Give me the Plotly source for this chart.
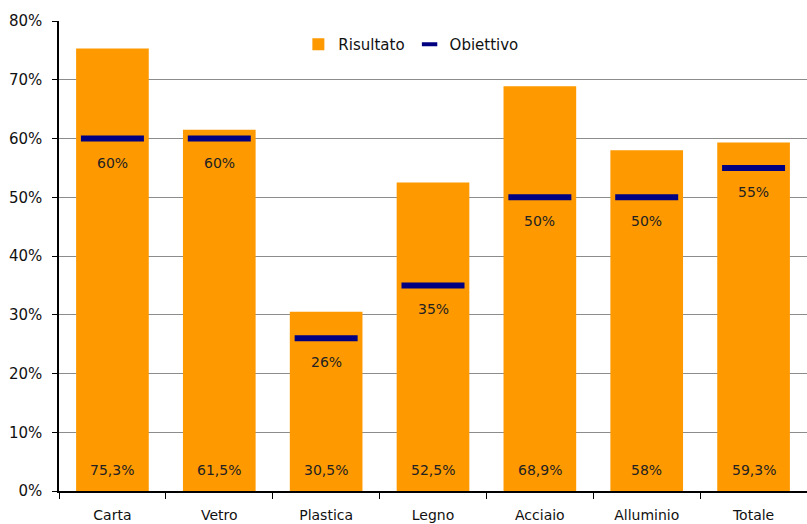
import plotly.graph_objects as go

categories = ["Carta", "Vetro", "Plastica", "Legno", "Acciaio", "Alluminio", "Totale"]
risultato = [75.3, 61.5, 30.5, 52.5, 68.9, 58.0, 59.3]
risultato_labels = ["75,3%", "61,5%", "30,5%", "52,5%", "68,9%", "58%", "59,3%"]
obiettivo = [60, 60, 26, 35, 50, 50, 55]
obiettivo_labels = ["60%", "60%", "26%", "35%", "50%", "50%", "55%"]
y_ticks = [0, 10, 20, 30, 40, 50, 60, 70, 80]

FONT = "DejaVu Sans"
ORANGE = "#FF9900"
NAVY = "#000080"

fig = go.Figure()
fig.add_trace(go.Bar(
    x=categories, y=risultato, name="Risultato",
    marker=dict(color=ORANGE, line=dict(width=0)),
    width=0.68,
))
fig.add_trace(go.Scatter(
    x=categories, y=obiettivo, name="Obiettivo", mode="markers", showlegend=False,
    marker=dict(symbol="line-ew-open", size=45, line=dict(width=6, color=NAVY), color=NAVY),
))
# legend entry with a short dash, as in the reference
fig.add_trace(go.Scatter(
    x=[None], y=[None], name="Obiettivo", mode="markers",
    marker=dict(symbol="line-ew-open", size=11, line=dict(width=4, color=NAVY), color=NAVY),
))

annotations = []
for c, lab in zip(categories, risultato_labels):
    annotations.append(dict(x=c, y=0, yref="y", xref="x", text=lab, showarrow=False,
                            yshift=21, font=dict(family=FONT, size=14, color="#222222")))
for c, v, lab in zip(categories, obiettivo, obiettivo_labels):
    annotations.append(dict(x=c, y=v, yref="y", xref="x", text=lab, showarrow=False,
                            yshift=-24, font=dict(family=FONT, size=14, color="#222222")))

fig.update_layout(
    width=807, height=524,
    margin=dict(l=59, r=0, t=21, b=33),
    plot_bgcolor="white", paper_bgcolor="white",
    font=dict(family=FONT, size=14, color="#222222"),
    showlegend=True,
    legend=dict(orientation="h", x=0.32, xanchor="left", y=0.985, yanchor="top",
                font=dict(family=FONT, size=15, color="#111111"),
                bgcolor="rgba(0,0,0,0)", itemwidth=30, tracegroupgap=0),
    annotations=annotations,
)
fig.update_xaxes(
    type="category", range=[-0.5, 6.5], tickson="boundaries", ticks="outside", ticklen=6,
    tickcolor="#000000", showline=True, linecolor="#000000", linewidth=1.5,
    showgrid=False, automargin=False, ticklabelstandoff=10,
    tickfont=dict(family=FONT, size=14, color="#111111"),
)
fig.update_yaxes(
    range=[0, 80], tickvals=y_ticks, ticktext=[f"{v}%" for v in y_ticks],
    showline=True, linecolor="#000000", linewidth=1.5,
    ticks="outside", ticklen=5, tickcolor="#000000",
    showgrid=True, gridcolor="#8c8c8c", gridwidth=1,
    zeroline=False, automargin=False, ticklabelstandoff=7,
    tickfont=dict(family=FONT, size=15, color="#111111"),
)

fig.write_html("out.html")
